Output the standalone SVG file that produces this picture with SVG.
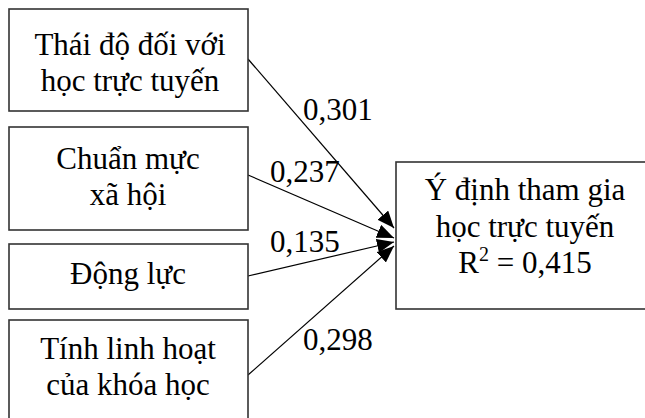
<svg xmlns="http://www.w3.org/2000/svg" width="645" height="418" viewBox="0 0 645 418">
<style>
.box{fill:#fff;stroke:#333;stroke-width:1.6}
.t{font-family:"Liberation Serif","Times New Roman",serif;font-size:31px;fill:#000;text-anchor:middle}
.lbl{font-family:"Liberation Serif","Times New Roman",serif;font-size:31px;fill:#000}
.ln{stroke:#000;stroke-width:1.2;fill:none;marker-end:url(#ah)}
</style>
<defs>
<marker id="ah" viewBox="0 0 10 10" refX="10" refY="5" markerWidth="17" markerHeight="14" markerUnits="userSpaceOnUse" orient="auto" preserveAspectRatio="none">
<path d="M0,0 L10,5 L0,10 z" fill="#000"/>
</marker>
</defs>
<rect width="645" height="418" fill="#fff"/>
<g id="connectors">
<line class="ln" x1="248" y1="59" x2="394" y2="228"/>
<line class="ln" x1="248" y1="175" x2="394" y2="238"/>
<line class="ln" x1="248" y1="276" x2="394" y2="242"/>
<line class="ln" x1="248" y1="375" x2="394" y2="246"/>
<text class="lbl" x="303" y="120">0,301</text>
<text class="lbl" x="270" y="182">0,237</text>
<text class="lbl" x="270" y="252">0,135</text>
<text class="lbl" x="303" y="350">0,298</text>
</g>
<g id="n1">
<rect class="box" x="9" y="9" width="239" height="102"/>
<text class="t" x="130" y="55">Thái độ đối với</text>
<text class="t" x="130" y="91">học trực tuyến</text>
</g>
<g id="n2">
<rect class="box" x="9" y="127" width="239" height="103"/>
<text class="t" x="128" y="169">Chuẩn mực</text>
<text class="t" x="128" y="205">xã hội</text>
</g>
<g id="n3">
<rect class="box" x="9" y="244" width="239" height="65"/>
<text class="t" x="128" y="284">Động lực</text>
</g>
<g id="n4">
<rect class="box" x="9" y="320" width="239" height="110"/>
<text class="t" x="128" y="359">Tính linh hoạt</text>
<text class="t" x="128" y="395">của khóa học</text>
</g>
<g id="n5">
<rect class="box" x="396" y="162" width="270" height="147"/>
<text class="t" x="525" y="200">Ý định tham gia</text>
<text class="t" x="525" y="237">học trực tuyến</text>
<text class="t" x="525" y="273">R<tspan font-size="20" dy="-12">2</tspan><tspan dy="12"> = 0,415</tspan></text>
</g>
</svg>
